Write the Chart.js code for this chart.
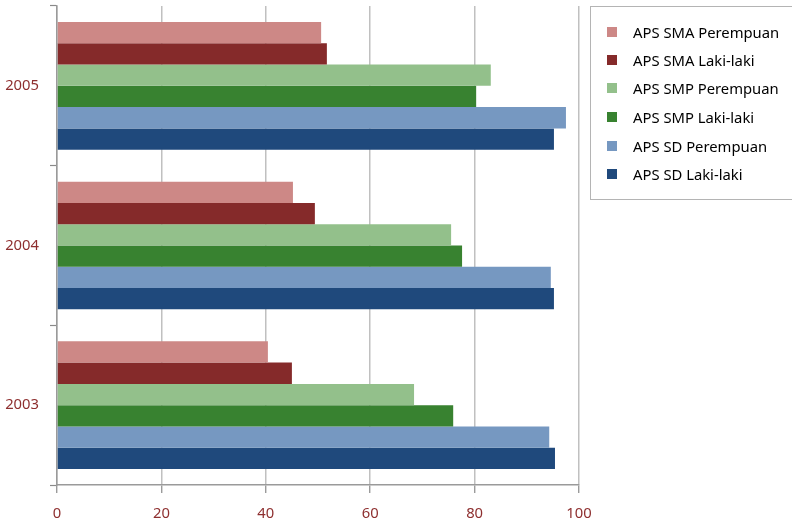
<!DOCTYPE html>
<html>
<head>
<meta charset="utf-8">
<script src="https://cdn.jsdelivr.net/npm/chart.js@4/dist/chart.umd.min.js"></script>
<style>
  html, body { margin: 0; padding: 0; background: #fff; overflow: hidden; }
  #wrap { position: relative; width: 792px; height: 524px; overflow: hidden; }
  #legend {
    position: absolute; left: 590px; top: 6px; width: 220px; height: 194px;
    border: 1px solid #b4b4b4; box-sizing: border-box;
    font-family: "Noto Sans", sans-serif; font-size: 14.8px; color: #000;
  }
  .item { position: absolute; left: 0; height: 20px; width: 200px; }
  .swatch { position: absolute; left: 16px; top: 5px; width: 10px; height: 10px; }
  .label { position: absolute; left: 42px; top: 0; line-height: 20px; white-space: nowrap; }
</style>
</head>
<body>
<div id="wrap">
  <canvas id="c" width="792" height="524"></canvas>
  <div id="legend"></div>
</div>
<script>
// Years shown on the category axis, top to bottom
const years = ['2005', '2004', '2003'];

// School participation rates (APS, %) per year
const smaPerempuan = [50.6, 45.2, 40.4];
const smaLaki      = [51.7, 49.4, 45.0];
const smpPerempuan = [83.1, 75.5, 68.4];
const smpLaki      = [80.3, 77.6, 75.9];
const sdPerempuan  = [97.5, 94.6, 94.3];
const sdLaki       = [95.2, 95.2, 95.4];

const seriesNames = [
  'APS SMA Perempuan', 'APS SMA Laki-laki',
  'APS SMP Perempuan', 'APS SMP Laki-laki',
  'APS SD Perempuan', 'APS SD Laki-laki'
];
const seriesValues = [smaPerempuan, smaLaki, smpPerempuan, smpLaki, sdPerempuan, sdLaki];
const seriesColors = ['#cd8886', '#852a2a', '#93c08b', '#388230', '#7698c1', '#1f497c'];

const xTicks = [0, 20, 40, 60, 80, 100];

const tickColor = '#8e2f2f';
const tickFont = { family: 'Noto Sans', size: 14.8 };

new Chart(document.getElementById('c'), {
  type: 'bar',
  data: {
    labels: years,
    datasets: seriesNames.map((name, i) => ({
      label: name,
      data: seriesValues[i],
      backgroundColor: seriesColors[i],
      borderWidth: 0,
      categoryPercentage: 0.8,
      barPercentage: 1.0
    }))
  },
  options: {
    indexAxis: 'y',
    responsive: false,
    animation: false,
    layout: { padding: { top: 6, right: 213, left: 0, bottom: 0 } },
    plugins: { legend: { display: false }, tooltip: { enabled: false } },
    scales: {
      x: {
        min: 0, max: 100,
        afterBuildTicks: s => { s.ticks = xTicks.map(v => ({ value: v })); },
        afterFit: s => { s.height = 39; s.paddingLeft = 0; s.paddingRight = 0; },
        grid: {
          color: '#c0c0c0', lineWidth: 1.5,
          drawTicks: true, tickLength: 8, tickColor: '#8a8a8a', tickWidth: 1.2
        },
        border: { display: true, color: '#9a9a9a', width: 1.5 },
        ticks: { color: tickColor, font: tickFont, padding: 12 }
      },
      y: {
        offset: true,
        afterFit: s => { s.width = 57; s.paddingTop = 0; s.paddingBottom = 0; },
        grid: {
          offset: true, drawOnChartArea: false,
          drawTicks: true, tickLength: 7, tickColor: '#8a8a8a', tickWidth: 1.2
        },
        border: { display: true, color: '#9a9a9a', width: 1.5 },
        ticks: { color: tickColor, font: tickFont, padding: 11 }
      }
    }
  }
});

// Legend panel on the right
const legend = document.getElementById('legend');
const rowCenters = [25, 53, 81, 110, 139, 167];
seriesNames.forEach((name, i) => {
  const item = document.createElement('div');
  item.className = 'item';
  item.style.top = (rowCenters[i] - 10) + 'px';
  item.innerHTML = '<span class="swatch" style="background:' + seriesColors[i] +
    '"></span><span class="label">' + name + '</span>';
  legend.appendChild(item);
});
</script>
</body>
</html>
